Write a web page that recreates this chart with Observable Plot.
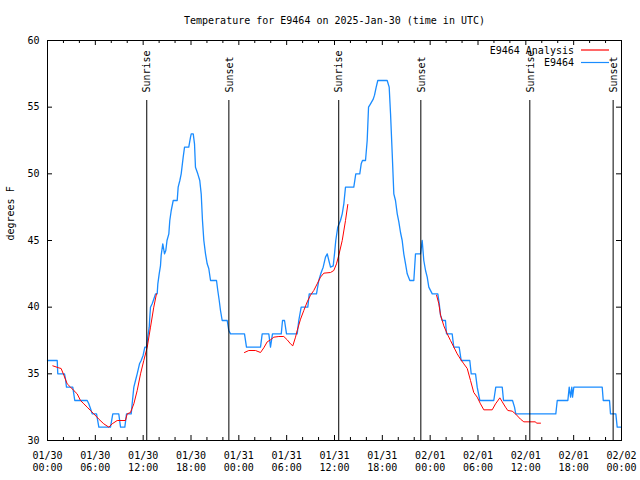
<!DOCTYPE html>
<html><head><meta charset="utf-8">
<script src="https://cdn.jsdelivr.net/npm/d3@7"></script>
<script src="https://cdn.jsdelivr.net/npm/@observablehq/plot@0.6"></script>
<style>body{margin:0;background:#fff}</style>
</head><body><div id="chart"></div>
<script>
const title = "Temperature for E9464 on 2025-Jan-30 (time in UTC)";
const yLabel = "degrees F";
const startUTC = "2025-01-30T00:00:00Z";
const endUTC = "2025-02-02T00:00:00Z";
const yTicks = [30, 35, 40, 45, 50, 55, 60];
const seriesNames = ["E9464 Analysis", "E9464"];
const seriesColors = ["#ff0000", "#1a8cff"];
const sunLabels = ["Sunrise", "Sunset", "Sunrise", "Sunset", "Sunrise", "Sunset"];
const sunHours = [12.45, 22.75, 36.53, 46.83, 60.5, 70.95];

// hours since 2025-01-30 00:00 UTC
const stationHours = [0, 1.22, 1.29, 2.13, 2.26, 2.38, 3.17, 3.42, 4.98, 5.18,
 5.39, 5.61, 6.15, 6.44, 7.90, 8.19, 8.94, 9.16, 9.70, 9.91,
 10.50, 10.66, 10.83, 11.04, 11.25, 11.54, 11.75, 12.00, 12.21, 12.42,
 12.58, 12.76, 12.83, 12.92, 13.13, 13.33, 13.55, 13.76, 13.84, 14.01,
 14.17, 14.26, 14.46, 14.68, 14.84, 14.99, 15.22, 15.34, 15.52, 15.77,
 16.27, 16.39, 16.60, 16.77, 17.02, 17.19, 17.72, 17.94, 18.03, 18.28,
 18.44, 18.56, 18.85, 19.10, 19.28, 19.44, 19.61, 19.82, 20.03, 20.23,
 20.45, 21.20, 21.36, 21.54, 21.70, 21.91, 22.54, 22.74, 22.96, 24.71,
 24.96, 26.72, 26.93, 27.76, 27.97, 28.22, 29.32, 29.48, 29.73, 29.98,
 31.32, 31.52, 31.82, 32.65, 32.83, 33.74, 34.03, 34.33, 34.58, 34.87,
 35.09, 35.29, 35.50, 35.84, 36.00, 36.16, 36.41, 36.75, 36.97, 37.17,
 37.38, 38.42, 38.67, 39.17, 39.35, 39.51, 39.89, 40.10, 40.27, 40.52,
 40.86, 41.02, 41.23, 41.43, 42.61, 42.86, 43.03, 43.24, 43.44, 43.65,
 43.87, 44.07, 44.28, 44.49, 44.69, 44.91, 45.12, 45.45, 45.95, 46.16,
 46.79, 47.00, 47.20, 47.42, 47.63, 47.83, 48.26, 48.96, 49.14, 49.30,
 49.51, 49.92, 50.05, 50.76, 50.96, 51.64, 51.89, 52.97, 53.15, 53.69,
 53.90, 54.23, 55.98, 56.23, 57.04, 57.20, 58.33, 58.58, 58.74, 63.76,
 63.94, 65.27, 65.44, 65.61, 65.77, 65.86, 66.02, 69.58, 69.71, 70.50,
 70.62, 71.29, 71.46, 71.88];
const stationTemps = [36, 36, 35, 35, 34.6, 34, 34, 33, 33, 32.75,
 32.4, 32, 32, 31, 31, 32, 32, 31, 31, 32,
 32, 33, 34, 34.5, 35, 35.75, 36, 36.4, 37, 37,
 37.75, 38.5, 39.25, 40, 40.25, 40.6, 41, 41, 41.75, 42.5,
 43.1, 43.9, 44.75, 44, 44.25, 45, 45.5, 46.5, 47.25, 48,
 48, 49, 49.5, 50, 51.25, 52, 52, 52.75, 53, 53,
 52.25, 50.5, 50, 49.5, 48.5, 46.5, 45, 44, 43.25, 42.9,
 42, 42, 41.25, 40.5, 39.75, 39, 39, 38.25, 38, 38,
 37, 37, 38, 38, 37, 38, 38, 39, 39, 38,
 38, 39, 40, 40, 41, 41, 42, 42.6, 43, 43.75,
 44, 43.5, 43, 43.1, 44, 45, 46, 46.5, 47, 47.75,
 49, 49, 50, 50, 50.75, 51, 51, 52.5, 55, 55.25,
 55.6, 55.9, 56.5, 57, 57, 56.5, 54.5, 51.5, 48.5, 48,
 47, 46.4, 45.6, 45, 44, 43.25, 42.5, 42, 42, 44,
 44, 45, 43.5, 42.75, 42.25, 41.5, 41, 41, 40.25, 39.4,
 39, 39, 38, 38, 37, 37, 36, 36, 35, 35,
 34, 33, 33, 34, 34, 33, 33, 32.5, 32, 32,
 33, 33, 34, 33.25, 34, 33.25, 34, 34, 33, 33,
 32, 32, 31, 31];

// analysis: null temperature marks a gap between runs
const analysisHours = [0.67, 1.42, 1.71, 2.05, 2.47, 2.89, 3.30, 3.72, 4.14, 4.56,
 4.98, 5.39, 5.81, 6.44, 7.06, 7.69, 8.11, 8.74, 9.78, 10.0,
 10.41, 10.83, 11.25, 11.67, 12.08, 12.51, 12.92, 13.33, 13.67,
 19,
 24.71, 25.25, 26.09, 26.72, 27.13, 27.56, 27.97, 28.39, 29.02, 29.64,
 30.07, 30.48, 30.77, 31.11, 31.32, 31.74, 32.15, 32.58, 32.99, 33.40,
 33.83, 34.24, 34.66, 35.50, 35.91, 36.25, 36.54, 36.97, 37.38, 37.67,
 42,
 48.80, 49.09, 49.30, 49.51, 49.71, 50.14, 50.55, 50.97, 51.39, 51.81,
 52.22, 52.65, 53.06, 53.47, 53.90, 54.31, 54.73, 55.78, 56.20, 56.74,
 57.04, 57.45, 57.74, 58.29, 58.70, 59.33, 59.75, 61.21, 61.34, 61.84];
const analysisTemps = [35.6, 35.45, 35.4, 34.9, 34.25, 34, 33.75, 33.5, 33, 32.75,
 32.5, 32.25, 32, 31.6, 31.25, 31, 31.25, 31.5, 31.5, 32,
 32.1, 32.75, 33.75, 35, 36, 37, 38.5, 40, 41,
 null,
 36.6, 36.75, 36.75, 36.6, 36.95, 37.4, 37.55, 37.75, 37.8, 37.8,
 37.55, 37.25, 37.1, 37.75, 38.25, 39.1, 39.75, 40.4, 40.9, 41.25,
 41.75, 42.25, 42.55, 42.6, 42.75, 43.25, 43.9, 45, 46.5, 47.7,
 null,
 40.9, 40.25, 39.4, 39, 38.6, 38, 37.5, 37, 36.5, 36.1,
 35.75, 35.4, 34.5, 33.6, 33.25, 32.75, 32.3, 32.3, 32.75, 33.2,
 32.9, 32.5, 32.25, 32.2, 32, 31.6, 31.4, 31.4, 31.3, 31.3];

const t0 = new Date(startUTC), t1 = new Date(endUTC);
const toDate = h => new Date(+t0 + h * 3600000);
const station = stationHours.map((h, i) => ({t: toDate(h), v: stationTemps[i]}));
const analysis = analysisHours.map((h, i) => ({t: toDate(h), v: analysisTemps[i]}));
const sun = sunHours.map((h, i) => ({t: toDate(h), label: sunLabels[i]}));
const majorTicks = d3.utcHour.every(6).range(t0, new Date(+t1 + 1));
const minorTicks = d3.utcHour.every(2).range(t0, new Date(+t1 + 1)).filter(d => d.getUTCHours() % 6 !== 0);

const W = 640, H = 480, mt = 40, mb = 40, ml = 47, mr = 19;
const pw = W - ml - mr, ph = H - mt - mb;
const FONT = "DejaVu Sans Mono";

function legend(index, scales, values, dims) {
  const g = d3.create("svg:g").attr("font-family", FONT).attr("font-size", 10).attr("fill", "black");
  const right = W - mr;
  seriesNames.forEach((name, i) => {
    const y = mt + 10.5 + i * 12.5;
    g.append("text").attr("x", right - 47).attr("y", y).attr("dy", "0.32em").attr("text-anchor", "end").text(name);
    g.append("line").attr("x1", right - 40).attr("x2", right - 12).attr("y1", y - 0.5).attr("y2", y - 0.5)
      .attr("stroke", seriesColors[i]).attr("stroke-width", 1.2);
  });
  return g.node();
}

const chart = Plot.plot({
  width: W, height: H,
  marginTop: mt, marginBottom: mb, marginLeft: ml, marginRight: mr,
  style: {fontFamily: FONT, fontSize: "10px", color: "black", background: "white"},
  x: {type: "utc", domain: [t0, t1]},
  y: {domain: [30, 60]},
  marks: [
    Plot.line(station, {x: "t", y: "v", stroke: seriesColors[1], strokeWidth: 1.3}),
    Plot.line(analysis, {x: "t", y: "v", stroke: seriesColors[0], strokeWidth: 1}),
    Plot.ruleX(sun, {x: "t", insetTop: 60, stroke: "black"}),
    Plot.text(sun, {x: "t", text: "label", rotate: -90, textAnchor: "start", lineAnchor: "middle", frameAnchor: "top", dx: 0.5, dy: 52, fill: "black"}),
    legend,
    Plot.frame({stroke: "black"}),
    Plot.ruleY(yTicks, {y: d => d, insetRight: pw - 5, stroke: "black"}),
    Plot.ruleY(yTicks, {y: d => d, insetLeft: pw - 5, stroke: "black"}),
    Plot.ruleX(majorTicks, {x: d => d, insetTop: ph - 5, stroke: "black"}),
    Plot.ruleX(majorTicks, {x: d => d, insetBottom: ph - 5, stroke: "black"}),
    Plot.ruleX(minorTicks, {x: d => d, insetTop: ph - 3, stroke: "black"}),
    Plot.ruleX(minorTicks, {x: d => d, insetBottom: ph - 3, stroke: "black"}),
    Plot.axisY({ticks: yTicks, tickSize: 0, tickPadding: 8, label: null, fill: "black"}),
    Plot.axisX({ticks: majorTicks, tickFormat: d3.utcFormat("%m/%d\n%H:%M"), tickSize: 0, tickPadding: 9, lineHeight: 1.27, label: null, fill: "black"}),
    Plot.text([title], {text: d => d, frameAnchor: "top", lineAnchor: "middle", dy: -20, fill: "black"}),
    Plot.text([yLabel], {text: d => d, frameAnchor: "left", dx: -37, rotate: -90, fill: "black"})
  ]
});
document.getElementById("chart").append(chart);
</script>
</body></html>
